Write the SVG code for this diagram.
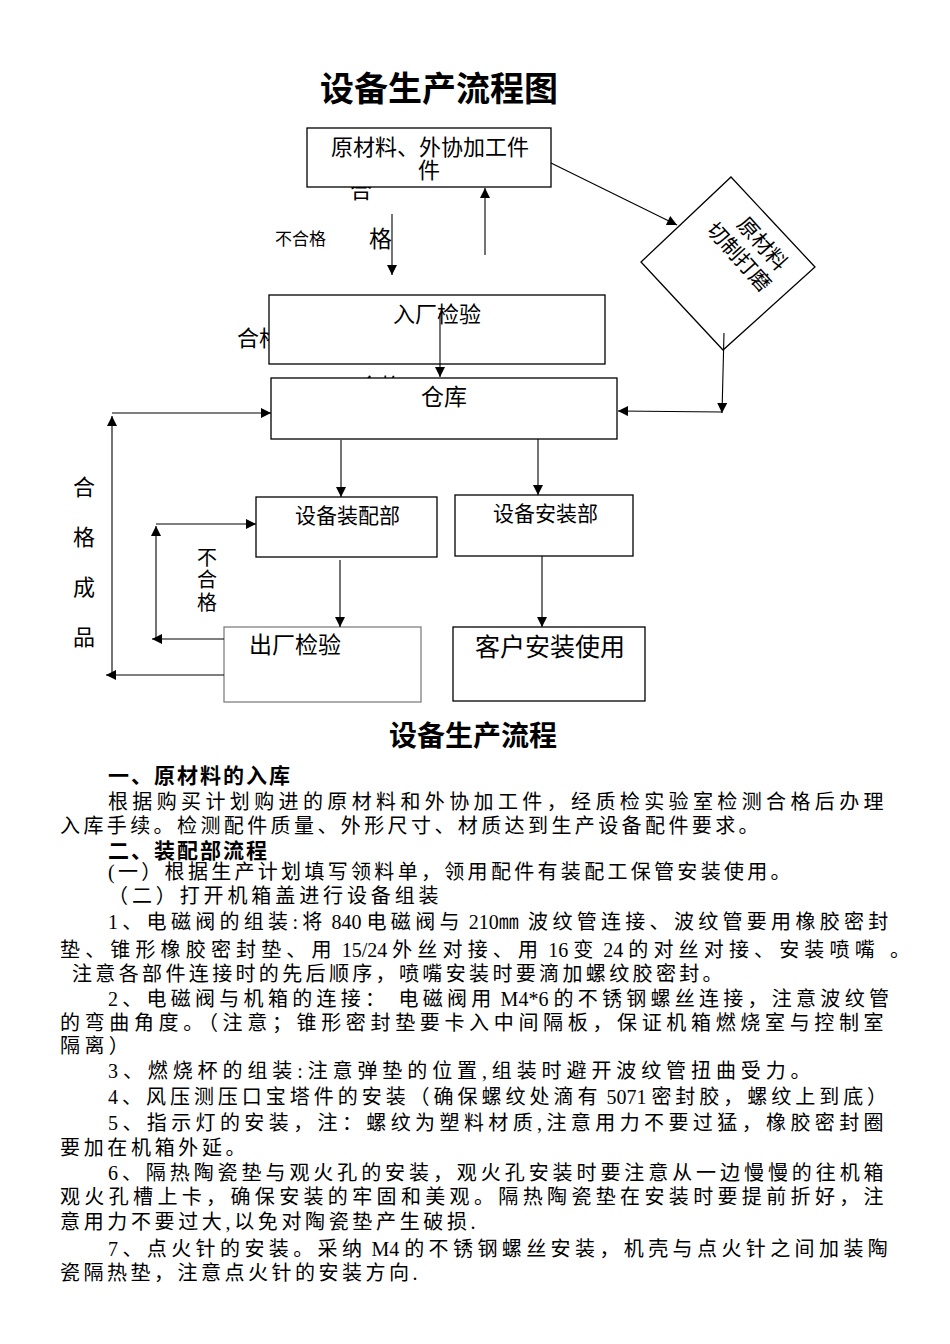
<svg xmlns="http://www.w3.org/2000/svg" width="950" height="1344" viewBox="0 0 950 1344">
<style>
.bx{fill:#fff;stroke:#000;stroke-width:1.3}
.gb{fill:#fff;stroke:#808080;stroke-width:1.3}
.lb{font-family:"Noto Sans CJK SC","Noto Sans CJK TC",sans-serif;fill:#000}
.vt{writing-mode:vertical-rl;text-orientation:upright}
.ln{fill:none;stroke:#000;stroke-width:1.1}
.body{font-family:"Liberation Serif","Noto Sans CJK SC",serif;font-size:20px;fill:#000;letter-spacing:4.4px}
.nl{letter-spacing:0}
.hd{font-family:"Noto Sans CJK SC",sans-serif;font-weight:bold;fill:#000}
</style>
<defs>
<marker id="ah" viewBox="0 0 10 10" refX="10" refY="5" markerWidth="11" markerHeight="10" markerUnits="userSpaceOnUse" orient="auto">
<path d="M0,0 L10,5 L0,10 Z" fill="#000"/>
</marker>
</defs>
<rect width="950" height="1344" fill="#fff"/>

<text class="hd" x="320" y="101" font-size="34">设备生产流程图</text>

<!-- partially hidden labels (behind boxes) -->
<g id="hidden-labels">
<text class="lb" x="350" y="198" font-size="22">合</text>
<text class="lb" x="369" y="247" font-size="23">格</text>
<text class="lb" x="237" y="346" font-size="22">合格</text>
<text class="lb" x="358" y="394" font-size="22">合格</text>
</g>

<g id="n-raw">
<rect class="bx" x="307" y="128" width="244" height="59"/>
<text class="lb" x="331" y="155" font-size="22">原材料、外协加工件</text>
<text class="lb" x="418" y="178" font-size="22">件</text>
</g>

<g id="n-cut">
<polygon class="bx" points="731,177 815,267 723,350 641,262"/>
<g transform="translate(762,244) rotate(48)">
<text class="lb" x="0" y="7" font-size="21" text-anchor="middle">原材料</text>
<text class="lb" x="-6" y="33" font-size="21" text-anchor="middle">切制打磨</text>
</g>
</g>

<g id="n-inspect-in">
<rect class="bx" x="269" y="295" width="336" height="69"/>
<text class="lb" x="393" y="322" font-size="22">入厂检验</text>
</g>

<g id="n-store">
<rect class="bx" x="271" y="378" width="346" height="61"/>
<text class="lb" x="421" y="405" font-size="23">仓库</text>
</g>

<g id="n-assembly">
<rect class="bx" x="256" y="497" width="181" height="60"/>
<text class="lb" x="295" y="523" font-size="21">设备装配部</text>
</g>

<g id="n-install">
<rect class="bx" x="455" y="495" width="178" height="61"/>
<text class="lb" x="493" y="521" font-size="21">设备安装部</text>
</g>

<g id="n-inspect-out">
<rect class="gb" x="224" y="627" width="197" height="75"/>
<text class="lb" x="249" y="653" font-size="23">出厂检验</text>
</g>

<g id="n-customer">
<rect class="bx" x="453" y="627" width="192" height="74"/>
<text class="lb" x="475" y="656" font-size="25">客户安装使用</text>
</g>

<g id="labels">
<text class="lb" x="275" y="245" font-size="17">不合格</text>
<text class="lb vt" x="84" y="476" font-size="22" style="letter-spacing:28px">合格成品</text>
<text class="lb vt" x="207" y="547" font-size="20" style="letter-spacing:2.5px">不合格</text>
</g>

<g id="connectors">
<line class="ln" x1="551" y1="163" x2="677" y2="225" marker-end="url(#ah)"/>
<line class="ln" x1="724" y1="333" x2="722" y2="413" marker-end="url(#ah)"/>
<line class="ln" x1="722" y1="412" x2="618" y2="411" marker-end="url(#ah)"/>
<line class="ln" x1="392" y1="214" x2="392" y2="275" marker-end="url(#ah)"/>
<line class="ln" x1="485" y1="255" x2="485" y2="188" marker-end="url(#ah)"/>
<line class="ln" x1="440" y1="313" x2="440" y2="377" marker-end="url(#ah)"/>
<line class="ln" x1="224" y1="675" x2="106" y2="675" marker-end="url(#ah)"/>
<line class="ln" x1="112" y1="675" x2="112" y2="416" marker-end="url(#ah)"/>
<line class="ln" x1="112" y1="413" x2="271" y2="413" marker-end="url(#ah)"/>
<line class="ln" x1="341" y1="440" x2="341" y2="497" marker-end="url(#ah)"/>
<line class="ln" x1="538" y1="439" x2="538" y2="495" marker-end="url(#ah)"/>
<line class="ln" x1="340" y1="560" x2="340" y2="627" marker-end="url(#ah)"/>
<line class="ln" x1="542" y1="556" x2="542" y2="627" marker-end="url(#ah)"/>
<line class="ln" x1="224" y1="639" x2="152" y2="639" marker-end="url(#ah)"/>
<line class="ln" x1="156" y1="639" x2="156" y2="526" marker-end="url(#ah)"/>
<line class="ln" x1="156" y1="524" x2="256" y2="524" marker-end="url(#ah)"/>
</g>

<g id="doc-text">
<text class="hd" x="389" y="746" font-size="28">设备生产流程</text>
<text class="hd" x="108" y="783" font-size="21" letter-spacing="2">一、原材料的入库</text>
<text class="body" x="108" y="809" textLength="780" lengthAdjust="spacing">根据购买计划购进的原材料和外协加工件，经质检实验室检测合格后办理</text>
<text class="body" x="60" y="833" textLength="703" lengthAdjust="spacing">入库手续。检测配件质量、外形尺寸、材质达到生产设备配件要求。</text>
<text class="hd" x="108" y="858" font-size="21" letter-spacing="2">二、装配部流程</text>
<text class="body" x="108" y="879" textLength="687" lengthAdjust="spacing">(一）根据生产计划填写领料单，领用配件有装配工保管安装使用。</text>
<text class="body" x="108" y="903" textLength="335" lengthAdjust="spacing">（二）打开机箱盖进行设备组装</text>
<text class="body" x="108" y="929" style="letter-spacing:4.3px">1、电磁阀的组装:将<tspan class="nl"> 840 </tspan>电磁阀与<tspan class="nl"> 210</tspan>㎜<tspan class="nl"> </tspan>波纹管连接、波纹管要用橡胶密封</text>
<text class="body" x="60" y="957" style="letter-spacing:5.15px">垫、锥形橡胶密封垫、用<tspan class="nl"> 15/24 </tspan>外丝对接、用<tspan class="nl"> 16 </tspan>变<tspan class="nl"> 24 </tspan>的对丝对接、安装喷嘴 。</text>
<text class="body" x="72" y="981" textLength="655" lengthAdjust="spacing">注意各部件连接时的先后顺序，喷嘴安装时要滴加螺纹胶密封。</text>
<text class="body" x="108" y="1006" style="letter-spacing:4.27px">2、电磁阀与机箱的连接： 电磁阀用<tspan class="nl"> M4*6 </tspan>的不锈钢螺丝连接，注意波纹管</text>
<text class="body" x="60" y="1030" textLength="828" lengthAdjust="spacing">的弯曲角度。（注意；锥形密封垫要卡入中间隔板，保证机箱燃烧室与控制室</text>
<text class="body" x="60" y="1053">隔离）</text>
<text class="body" x="108" y="1078" textLength="707" lengthAdjust="spacing">3、燃烧杯的组装:注意弹垫的位置,组装时避开波纹管扭曲受力。</text>
<text class="body" x="108" y="1104" style="letter-spacing:3.97px">4、风压测压口宝塔件的安装（确保螺纹处滴有<tspan class="nl"> 5071 </tspan>密封胶，螺纹上到底）</text>
<text class="body" x="108" y="1130" textLength="780" lengthAdjust="spacing">5、指示灯的安装，注：螺纹为塑料材质,注意用力不要过猛，橡胶密封圈</text>
<text class="body" x="60" y="1155" textLength="190" lengthAdjust="spacing">要加在机箱外延。</text>
<text class="body" x="108" y="1180" textLength="780" lengthAdjust="spacing">6、隔热陶瓷垫与观火孔的安装，观火孔安装时要注意从一边慢慢的往机箱</text>
<text class="body" x="60" y="1204" textLength="828" lengthAdjust="spacing">观火孔槽上卡，确保安装的牢固和美观。隔热陶瓷垫在安装时要提前折好，注</text>
<text class="body" x="60" y="1229" textLength="420" lengthAdjust="spacing">意用力不要过大,以免对陶瓷垫产生破损.</text>
<text class="body" x="108" y="1256" style="letter-spacing:4.4px">7、点火针的安装。采纳<tspan class="nl"> M4 </tspan>的不锈钢螺丝安装，机壳与点火针之间加装陶</text>
<text class="body" x="60" y="1280" textLength="362" lengthAdjust="spacing">瓷隔热垫，注意点火针的安装方向.</text>
</g>
</svg>
